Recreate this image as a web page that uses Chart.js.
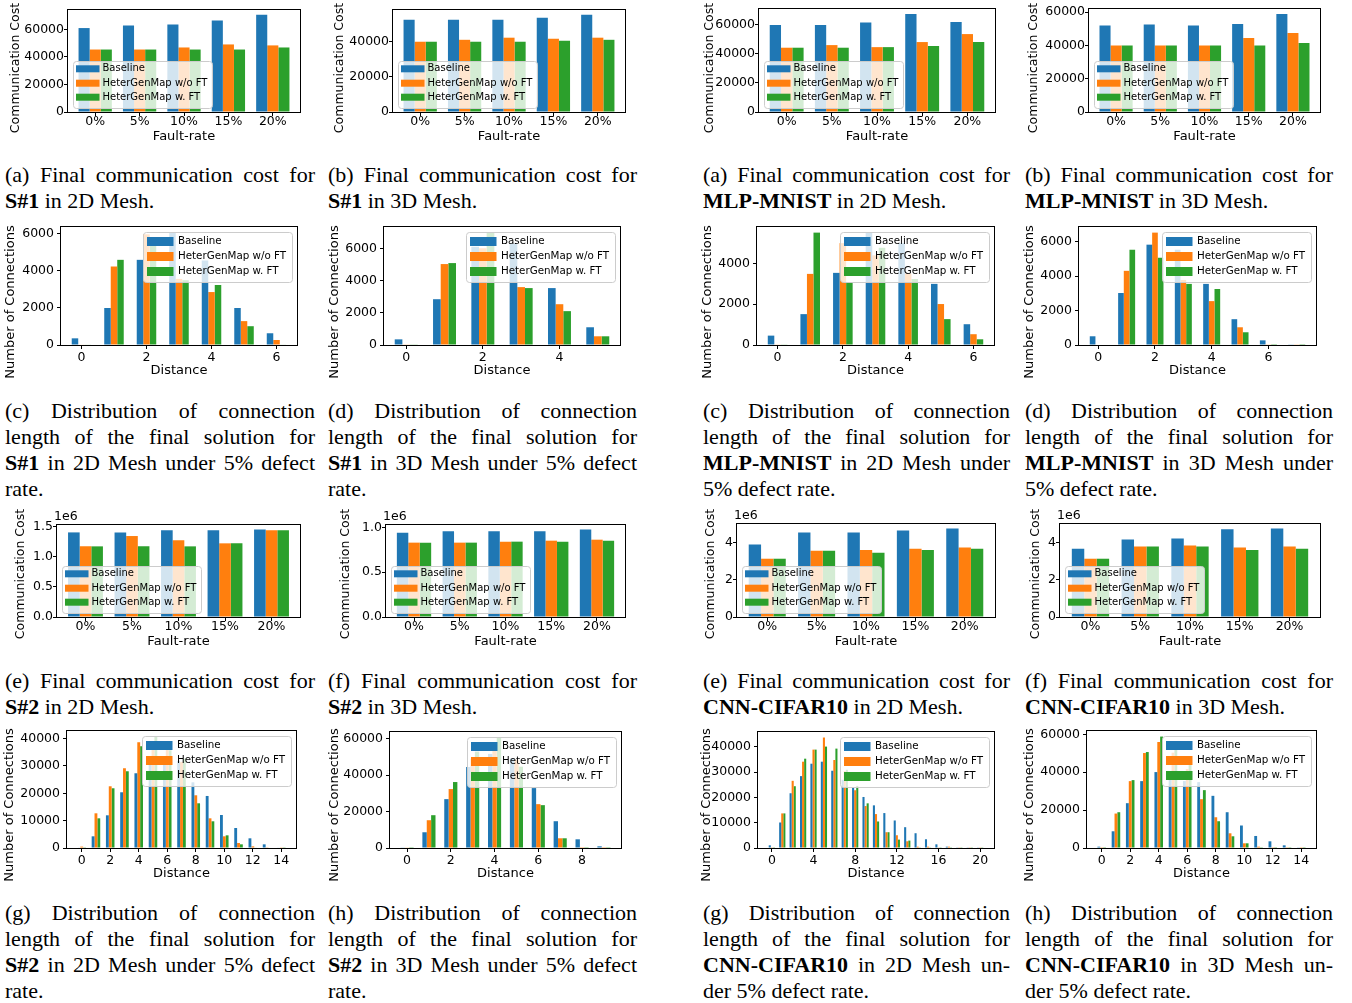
<!DOCTYPE html>
<html>
<head>
<meta charset="utf-8">
<script src="https://cdn.jsdelivr.net/npm/chart.js@4.4.1/dist/chart.umd.min.js"></script>
<style>
  body { margin: 0; background: #fff; width: 1352px; height: 1003px; position: relative; overflow: hidden; }
  canvas { position: absolute; }
  .cap { position: absolute; font-family: "Liberation Serif", "Times New Roman", serif; font-size: 22px; line-height: 26px; color: #000; }
  .cap div { text-align: justify; text-align-last: justify; }
  .cap div.last { text-align: left; text-align-last: left; }
</style>
</head>
<body>

<div class="cap" style="left:5px;top:162px;width:310px"><div>(a) Final communication cost for</div><div class="last"><b>S#1</b> in 2D Mesh.</div></div>
<div class="cap" style="left:328px;top:162px;width:309px"><div>(b) Final communication cost for</div><div class="last"><b>S#1</b> in 3D Mesh.</div></div>
<div class="cap" style="left:703px;top:162px;width:307px"><div>(a) Final communication cost for</div><div class="last"><b>MLP-MNIST</b> in 2D Mesh.</div></div>
<div class="cap" style="left:1025px;top:162px;width:308px"><div>(b) Final communication cost for</div><div class="last"><b>MLP-MNIST</b> in 3D Mesh.</div></div>

<div class="cap" style="left:5px;top:398px;width:310px"><div>(c) Distribution of connection</div><div>length of the final solution for</div><div><b>S#1</b> in 2D Mesh under 5% defect</div><div class="last">rate.</div></div>
<div class="cap" style="left:328px;top:398px;width:309px"><div>(d) Distribution of connection</div><div>length of the final solution for</div><div><b>S#1</b> in 3D Mesh under 5% defect</div><div class="last">rate.</div></div>
<div class="cap" style="left:703px;top:398px;width:307px"><div>(c) Distribution of connection</div><div>length of the final solution for</div><div><b>MLP-MNIST</b> in 2D Mesh under</div><div class="last">5% defect rate.</div></div>
<div class="cap" style="left:1025px;top:398px;width:308px"><div>(d) Distribution of connection</div><div>length of the final solution for</div><div><b>MLP-MNIST</b> in 3D Mesh under</div><div class="last">5% defect rate.</div></div>

<div class="cap" style="left:5px;top:668px;width:310px"><div>(e) Final communication cost for</div><div class="last"><b>S#2</b> in 2D Mesh.</div></div>
<div class="cap" style="left:328px;top:668px;width:309px"><div>(f) Final communication cost for</div><div class="last"><b>S#2</b> in 3D Mesh.</div></div>
<div class="cap" style="left:703px;top:668px;width:307px"><div>(e) Final communication cost for</div><div class="last"><b>CNN-CIFAR10</b> in 2D Mesh.</div></div>
<div class="cap" style="left:1025px;top:668px;width:308px"><div>(f) Final communication cost for</div><div class="last"><b>CNN-CIFAR10</b> in 3D Mesh.</div></div>

<div class="cap" style="left:5px;top:900px;width:310px"><div>(g) Distribution of connection</div><div>length of the final solution for</div><div><b>S#2</b> in 2D Mesh under 5% defect</div><div class="last">rate.</div></div>
<div class="cap" style="left:328px;top:900px;width:309px"><div>(h) Distribution of connection</div><div>length of the final solution for</div><div><b>S#2</b> in 3D Mesh under 5% defect</div><div class="last">rate.</div></div>
<div class="cap" style="left:703px;top:900px;width:307px"><div>(g) Distribution of connection</div><div>length of the final solution for</div><div><b>CNN-CIFAR10</b> in 2D Mesh un-</div><div class="last">der 5% defect rate.</div></div>
<div class="cap" style="left:1025px;top:900px;width:308px"><div>(h) Distribution of connection</div><div>length of the final solution for</div><div><b>CNN-CIFAR10</b> in 3D Mesh un-</div><div class="last">der 5% defect rate.</div></div>

<script>
/* data */
const faultRates = ['0%', '5%', '10%', '15%', '20%']
const seriesNames = ['Baseline', 'HeterGenMap w/o FT', 'HeterGenMap w. FT']
const seriesColors = ['#1f77b4', '#ff7f0e', '#2ca02c']

// final communication cost
const costS1_2D_base = [61000, 62800, 63600, 66500, 70600]
const costS1_2D_noFT = [45400, 45400, 46900, 49100, 48400]
const costS1_2D_FT = [45400, 45400, 45400, 45400, 46900]
const costS1_3D_base = [52450, 52450, 52450, 53600, 55300]
const costS1_3D_noFT = [40000, 41100, 42300, 41700, 42300]
const costS1_3D_FT = [40000, 40000, 40000, 40600, 41100]
const costMLP_2D_base = [60000, 60000, 61600, 67600, 62000]
const costMLP_2D_noFT = [44300, 46100, 44700, 48200, 53700]
const costMLP_2D_FT = [44300, 44300, 44700, 45400, 48200]
const costMLP_3D_base = [52000, 52600, 52000, 53000, 59000]
const costMLP_3D_noFT = [40000, 40000, 40000, 44500, 47500]
const costMLP_3D_FT = [40000, 40000, 40000, 40000, 41500]
const costS2_2D_base = [1400000, 1400000, 1434000, 1434000, 1450000]
const costS2_2D_noFT = [1169000, 1340000, 1269000, 1219000, 1434000]
const costS2_2D_FT = [1169000, 1169000, 1169000, 1219000, 1434000]
const costS2_3D_base = [941000, 956000, 956000, 956000, 978000]
const costS2_3D_noFT = [830000, 830000, 841000, 852000, 863000]
const costS2_3D_FT = [830000, 830000, 841000, 841000, 852000]
const costCNN_2D_base = [3910000, 4560000, 4560000, 4670000, 4780000]
const costCNN_2D_noFT = [3145000, 3580000, 3620000, 3690000, 3745000]
const costCNN_2D_FT = [3145000, 3580000, 3470000, 3620000, 3690000]
const costCNN_3D_base = [3690000, 4180000, 4240000, 4730000, 4780000]
const costCNN_3D_noFT = [3145000, 3800000, 3855000, 3745000, 3800000]
const costCNN_3D_FT = [3145000, 3800000, 3800000, 3620000, 3690000]

// connection length distributions
const dist0to5 = [0, 1, 2, 3, 4, 5]
const dist0to6 = [0, 1, 2, 3, 4, 5, 6]
const dist0to7 = [0, 1, 2, 3, 4, 5, 6, 7]
const dist0to9 = [0, 1, 2, 3, 4, 5, 6, 7, 8, 9]
const dist0to14 = [0, 1, 2, 3, 4, 5, 6, 7, 8, 9, 10, 11, 12, 13, 14]
const dist0to20 = [0, 1, 2, 3, 4, 5, 6, 7, 8, 9, 10, 11, 12, 13, 14, 15, 16, 17, 18, 19, 20]

const distS1_2D_base = [360, 2000, 4600, 6070, 4565, 2000, 634]
const distS1_2D_noFT = [30, 4240, 5980, 3570, 2860, 1290, 270]
const distS1_2D_FT = [30, 4600, 5550, 3500, 3240, 1015, 30]
const distS1_3D_base = [350, 2840, 6100, 6290, 3530, 1100]
const distS1_3D_noFT = [40, 5020, 6000, 3590, 2530, 540]
const distS1_3D_FT = [40, 5080, 6970, 3530, 2100, 540]
const distMLP_2D_base = [460, 1515, 3540, 5515, 5000, 3000, 1020]
const distMLP_2D_noFT = [30, 3490, 5000, 4400, 3500, 2010, 530]
const distMLP_2D_FT = [30, 5515, 3045, 4770, 3240, 1270, 280]
const distMLP_3D_base = [507, 3020, 5830, 5535, 3550, 1500, 270, 20]
const distMLP_3D_noFT = [30, 4310, 6530, 3780, 2550, 1030, 20, 20]
const distMLP_3D_FT = [30, 5535, 5070, 3550, 3255, 740, 10, 10]
const distS2_2D_base = [200, 4270, 11950, 20370, 27320, 32000, 33400, 31830, 24000, 19020, 12070, 7320, 3540, 1340, 200]
const distS2_2D_noFT = [500, 12680, 22560, 29150, 38660, 38660, 36340, 31460, 19270, 10850, 4270, 1830, 600, 100, 100]
const distS2_2D_FT = [100, 10850, 21830, 28050, 37200, 40730, 35730, 32680, 16340, 9760, 4630, 1340, 200, 0, 100]
const distS2_3D_base = [200, 8650, 26860, 44530, 51700, 49300, 32930, 14720, 4780, 920]
const distS2_3D_noFT = [200, 15270, 32380, 49120, 54460, 48570, 24100, 5340, 100, 100]
const distS2_3D_FT = [100, 18030, 36250, 53000, 60720, 44700, 23550, 5340, 100, 100]
const distCNN_2D_base = [1060, 10100, 21680, 28460, 33380, 34180, 30590, 27000, 23940, 20210, 16890, 13830, 10900, 8240, 5850, 3460, 1460, 530, 270, 130, 130]
const distCNN_2D_noFT = [100, 13700, 26600, 34180, 38960, 43750, 34840, 30450, 22870, 16620, 13430, 6250, 5050, 2660, 530, 530, 130, 530, 100, 100, 100]
const distCNN_2D_FT = [100, 13700, 24470, 35370, 38960, 40160, 39360, 30980, 24600, 17690, 10500, 6250, 3320, 2930, 270, 130, 100, 100, 100, 100, 100]
const distCNN_3D_base = [700, 8820, 23650, 35290, 40060, 40200, 35300, 34760, 27530, 18880, 11870, 6350, 3530, 1410, 350]
const distCNN_3D_noFT = [100, 18180, 35290, 50110, 55940, 50300, 41650, 25760, 16230, 7760, 2470, 700, 100, 100, 100]
const distCNN_3D_FT = [100, 18880, 35820, 50640, 58800, 51700, 43760, 30530, 14120, 6180, 2470, 100, 100, 100, 100]

// tick values
const costTicks60k = [0, 20000, 40000, 60000]
const costTicks40k = [0, 20000, 40000]
const costTicks1_5e6 = [0, 500000, 1000000, 1500000]
const costTicks1_0e6 = [0, 500000, 1000000]
const costTicks4e6 = [0, 2000000, 4000000]
const distTicks6k = [0, 2000, 4000, 6000]
const distTicks4k = [0, 2000, 4000]
const distTicks40k = [0, 10000, 20000, 30000, 40000]
const distTicks60k = [0, 20000, 40000, 60000]
const xTicksTo4 = [0, 2, 4]
const xTicksTo6 = [0, 2, 4, 6]
const xTicksTo8 = [0, 2, 4, 6, 8]
const xTicksTo14 = [0, 2, 4, 6, 8, 10, 12, 14]
const xTicksTo20 = [0, 4, 8, 12, 16, 20]

/* layout: plot frame [left, top, right, bottom] and y-label centre, page pixels */
const panels = [
  {kind: 'cost', frame: [68, 10, 300, 112], ylab: [16, 68], series: [costS1_2D_base, costS1_2D_noFT, costS1_2D_FT], yTicks: costTicks60k},
  {kind: 'cost', frame: [393, 10, 625, 112], ylab: [340, 68], series: [costS1_3D_base, costS1_3D_noFT, costS1_3D_FT], yTicks: costTicks40k},
  {kind: 'cost', frame: [759, 9, 995, 112], ylab: [710, 68], series: [costMLP_2D_base, costMLP_2D_noFT, costMLP_2D_FT], yTicks: costTicks60k},
  {kind: 'cost', frame: [1089, 9, 1320, 112], ylab: [1034, 68], series: [costMLP_3D_base, costMLP_3D_noFT, costMLP_3D_FT], yTicks: costTicks60k},

  {kind: 'dist', frame: [61, 227, 297, 345], ylab: [11, 302], xs: dist0to6, series: [distS1_2D_base, distS1_2D_noFT, distS1_2D_FT], yTicks: distTicks6k, xTicks: xTicksTo6},
  {kind: 'dist', frame: [384, 227, 620, 345], ylab: [335, 302], xs: dist0to5, series: [distS1_3D_base, distS1_3D_noFT, distS1_3D_FT], yTicks: distTicks6k, xTicks: xTicksTo4},
  {kind: 'dist', frame: [757, 227, 994, 345], ylab: [708, 302], xs: dist0to6, series: [distMLP_2D_base, distMLP_2D_noFT, distMLP_2D_FT], yTicks: distTicks4k, xTicks: xTicksTo6},
  {kind: 'dist', frame: [1079, 227, 1316, 345], ylab: [1030, 302], xs: dist0to7, series: [distMLP_3D_base, distMLP_3D_noFT, distMLP_3D_FT], yTicks: distTicks6k, xTicks: xTicksTo6},

  {kind: 'cost', frame: [57, 525, 300, 617], ylab: [21, 574], series: [costS2_2D_base, costS2_2D_noFT, costS2_2D_FT], yTicks: costTicks1_5e6, sci: 'fixed'},
  {kind: 'cost', frame: [386, 525, 625, 617], ylab: [346, 574], series: [costS2_3D_base, costS2_3D_noFT, costS2_3D_FT], yTicks: costTicks1_0e6, sci: 'fixed'},
  {kind: 'cost', frame: [737, 524, 995, 617], ylab: [711, 574], series: [costCNN_2D_base, costCNN_2D_noFT, costCNN_2D_FT], yTicks: costTicks4e6, sci: 'int'},
  {kind: 'cost', frame: [1060, 524, 1320, 617], ylab: [1036, 574], series: [costCNN_3D_base, costCNN_3D_noFT, costCNN_3D_FT], yTicks: costTicks4e6, sci: 'int'},

  {kind: 'dist', frame: [67, 731, 296, 848], ylab: [10, 805], xs: dist0to14, series: [distS2_2D_base, distS2_2D_noFT, distS2_2D_FT], yTicks: distTicks40k, xTicks: xTicksTo14},
  {kind: 'dist', frame: [390, 732, 621, 848], ylab: [335, 805], xs: dist0to9, series: [distS2_3D_base, distS2_3D_noFT, distS2_3D_FT], yTicks: distTicks60k, xTicks: xTicksTo8},
  {kind: 'dist', frame: [758, 732, 994, 848], ylab: [707, 805], xs: dist0to20, series: [distCNN_2D_base, distCNN_2D_noFT, distCNN_2D_FT], yTicks: distTicks40k, xTicks: xTicksTo20},
  {kind: 'dist', frame: [1087, 731, 1316, 848], ylab: [1030, 805], xs: dist0to14, series: [distCNN_3D_base, distCNN_3D_noFT, distCNN_3D_FT], yTicks: distTicks60k, xTicks: xTicksTo14}
]

const legendStyle = {
  cost: {w: 139, h: 47, pad: 4.5, rows: [8.3, 22.7, 36.7], px: 3.5, pw: 23.5, ph: 7, tx: 30, font: 10},
  dist: {w: 149, h: 50, pad: 5, rows: [9.5, 24.5, 39.5], px: 4, pw: 26.5, ph: 9, tx: 35, font: 10.3}
}

Chart.defaults.font.family = '"DejaVu Sans", sans-serif'
Chart.defaults.color = '#000'

/* matplotlib-like frame, inside legend, rotated y label and 1e6 offset */
const mplPlugin = {
  id: 'mpl',
  afterDatasetsDraw(chart, args, o) {
    const {ctx, chartArea: a} = chart
    ctx.save()
    ctx.strokeStyle = '#000'
    ctx.lineWidth = 1
    ctx.strokeRect(a.left - 0.5, a.top - 0.5, a.right - a.left + 1, a.bottom - a.top + 1)
    ctx.restore()
  },
  afterDraw(chart, args, o) {
    const {ctx, chartArea: a} = chart
    const lg = o.legend
    const x = o.upperRight ? a.right - lg.pad - lg.w : a.left + lg.pad
    const y = o.upperRight ? a.top + lg.pad : a.bottom - lg.pad - lg.h
    ctx.save()
    ctx.beginPath()
    ctx.roundRect(Math.round(x) + 0.5, Math.round(y) + 0.5, lg.w, lg.h, 3)
    ctx.fillStyle = 'rgba(255,255,255,0.8)'
    ctx.fill()
    ctx.strokeStyle = '#cccccc'
    ctx.lineWidth = 1
    ctx.stroke()
    ctx.font = lg.font + 'px "DejaVu Sans"'
    ctx.textBaseline = 'middle'
    chart.data.datasets.forEach((ds, i) => {
      const cy = y + lg.rows[i]
      ctx.fillStyle = ds.backgroundColor
      ctx.fillRect(x + lg.px, cy - lg.ph / 2, lg.pw, lg.ph)
      ctx.fillStyle = '#000'
      ctx.fillText(ds.label, x + lg.tx, cy)
    })
    // y axis label
    ctx.translate(o.ylab[0], o.ylab[1])
    ctx.rotate(-Math.PI / 2)
    ctx.font = o.ysize + 'px "DejaVu Sans"'
    ctx.textAlign = 'center'
    ctx.fillText(o.ytitle, 0, 0)
    ctx.restore()
    if (o.sci) {
      ctx.save()
      ctx.font = '12.5px "DejaVu Sans"'
      ctx.textBaseline = 'middle'
      ctx.fillStyle = '#000'
      ctx.fillText('1e6', a.left - 3, a.top - 8)
      ctx.restore()
    }
  }
}

function makePanel(p) {
  const [L, T, R, B] = p.frame
  const isCost = p.kind == 'cost'
  const TP = 34, RP = 6
  const XH = isCost ? 32 : 33
  const left = Math.round(p.ylab[0] - 9)
  const YW = L - left
  const W = YW + (R - L) + RP
  const H = TP + (B - T) + XH
  const canvas = document.createElement('canvas')
  canvas.width = W
  canvas.height = H
  canvas.style.left = left + 'px'
  canvas.style.top = (T - TP) + 'px'
  canvas.style.width = W + 'px'
  canvas.style.height = H + 'px'
  document.body.appendChild(canvas)

  const xs = isCost ? faultRates.map((f, i) => i) : p.xs
  const half = isCost ? 0.375 : 0.3
  const lo = xs[0] - half, hi = xs[xs.length - 1] + half
  const margin = 0.05 * (hi - lo)
  const yMax = Math.max(...p.series.flat()) * 1.05

  let yLabel = v => String(v)
  if (p.sci == 'fixed') yLabel = v => (v / 1e6).toFixed(1)
  if (p.sci == 'int') yLabel = v => String(v / 1e6)

  const tickGrid = {display: true, drawOnChartArea: false, drawTicks: true, tickLength: 4, color: '#000', offset: false}

  return new Chart(canvas, {
    type: 'bar',
    data: {
      datasets: p.series.map((vals, i) => ({
        label: seriesNames[i],
        data: vals.map((v, j) => ({x: xs[j], y: v})),
        backgroundColor: seriesColors[i],
        borderWidth: 0,
        categoryPercentage: isCost ? 0.75 : 0.6,
        barPercentage: 1
      }))
    },
    options: {
      responsive: false,
      animation: false,
      devicePixelRatio: 1,
      layout: {padding: {top: TP, right: RP, left: 0, bottom: 0}},
      plugins: {
        legend: {display: false},
        tooltip: {enabled: false},
        mpl: {
          legend: legendStyle[p.kind],
          upperRight: !isCost,
          ylab: [p.ylab[0] - left, p.ylab[1] - (T - TP)],
          ytitle: isCost ? 'Communication Cost' : 'Number of Connections',
          ysize: isCost ? 12.5 : 13,
          sci: p.sci
        }
      },
      scales: {
        x: {
          type: 'linear',
          min: lo - margin,
          max: hi + margin,
          offset: false,
          grid: tickGrid,
          border: {display: false},
          afterBuildTicks: s => { s.ticks = (isCost ? xs : p.xTicks).map(v => ({value: v})) },
          ticks: {
            autoSkip: false, maxRotation: 0, padding: isCost ? -1 : 2,
            font: {size: 12.5, lineHeight: 1},
            callback: v => isCost ? faultRates[v] : String(v)
          },
          title: {display: true, text: isCost ? 'Fault-rate' : 'Distance', font: {size: 13}, padding: 0},
          afterFit: s => { s.height = XH }
        },
        y: {
          type: 'linear',
          min: 0,
          max: yMax,
          grid: tickGrid,
          border: {display: false},
          afterBuildTicks: s => { s.ticks = p.yTicks.map(v => ({value: v})) },
          ticks: {padding: isCost ? 0 : 3, font: {size: 12.5, lineHeight: 1}, callback: yLabel},
          afterFit: s => { s.width = YW }
        }
      }
    },
    plugins: [mplPlugin]
  })
}

panels.forEach(makePanel)
</script>
</body>
</html>
